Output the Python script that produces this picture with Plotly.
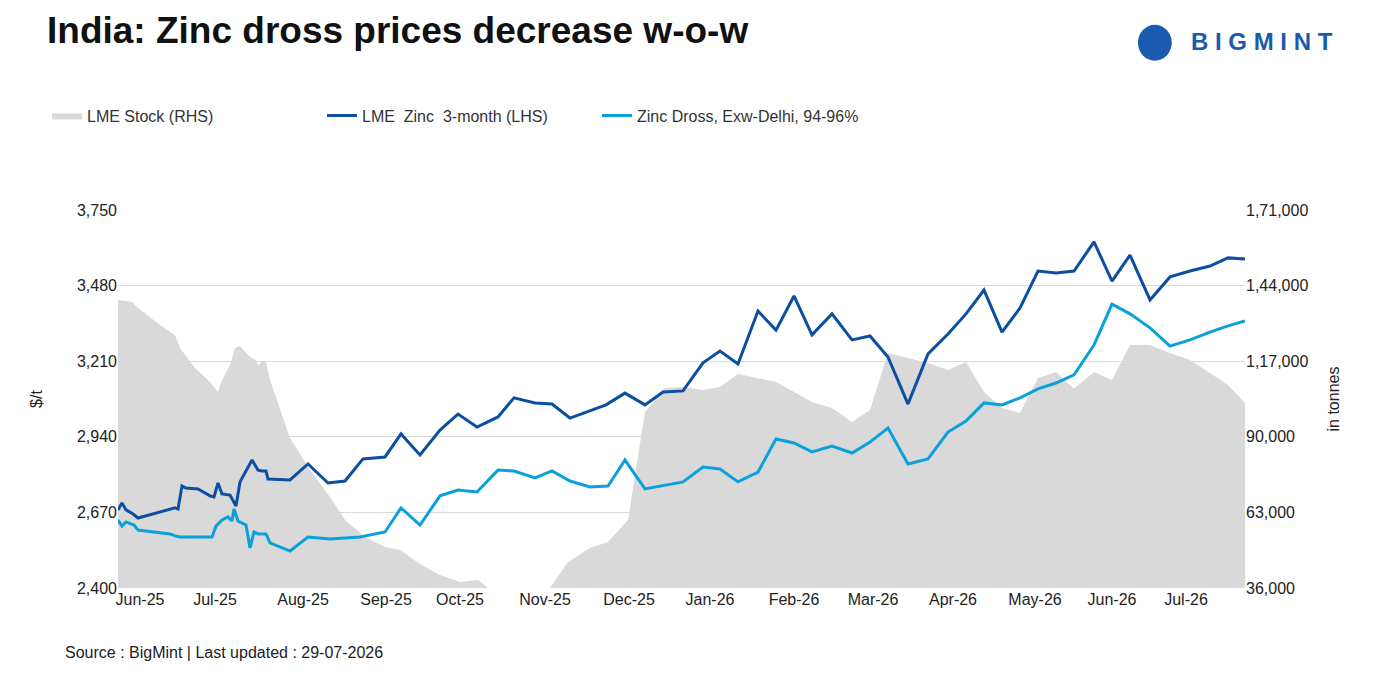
import plotly.graph_objects as go

# x positions (relative horizontal time index)
x_zinc = [0,4,8,15,20,57,60,64,68,80,92,96,100,104,112,118,122,134,140,144,148,150,172,190,210,227,245,267,283,302,322,340,359,380,396,417,434,452,488,507,527,545,565,585,602,620,640,658,676,694,714,734,752,770,790,810,830,848,866,884,902,920,938,956,976,994,1012,1032,1052,1072,1092,1110,1127]
lme_zinc = [2679,2704,2679,2664,2650,2686,2682,2764,2757,2754,2729,2725,2775,2736,2732,2693,2779,2857,2821,2818,2818,2789,2786,2843,2775,2782,2861,2868,2950,2875,2964,3021,2975,3011,3079,3061,3057,3007,3054,3096,3054,3100,3104,3204,3246,3200,3389,3321,3443,3304,3379,3286,3300,3225,3057,3236,3307,3379,3464,3314,3400,3532,3525,3532,3636,3496,3589,3429,3511,3532,3550,3579,3575]

x_dross = [0,4,8,16,20,52,57,62,82,94,98,104,110,114,116,120,128,132,136,140,148,152,172,190,212,242,267,283,302,322,340,359,380,396,417,434,452,472,490,507,527,547,565,585,602,620,640,658,676,694,714,734,752,770,790,810,830,848,866,884,902,920,938,956,976,994,1012,1032,1052,1072,1092,1110,1127]
zinc_dross = [2643,2621,2636,2625,2607,2593,2586,2582,2582,2582,2621,2643,2654,2639,2682,2639,2625,2543,2600,2593,2593,2561,2532,2582,2575,2582,2600,2686,2625,2729,2750,2743,2821,2818,2793,2818,2782,2761,2764,2857,2754,2768,2779,2832,2825,2779,2814,2932,2918,2886,2907,2882,2921,2971,2843,2861,2957,2996,3061,3054,3079,3111,3132,3161,3268,3414,3379,3329,3264,3286,3314,3336,3354]

x_stock = [0,14,20,42,57,62,77,92,100,104,112,117,122,130,134,138,140,144,148,152,172,192,212,227,247,267,282,302,322,342,360,370,432,450,472,490,510,527,547,565,585,602,620,640,658,676,694,714,734,752,770,790,810,830,848,866,884,902,920,938,956,976,994,1012,1032,1052,1072,1092,1110,1127]
lme_stock = [138900,138100,136000,129900,126400,121700,114600,109600,106000,110300,115600,121700,122400,119200,118100,117400,115600,116700,116700,110300,89600,78100,68500,60300,54200,50600,49600,44600,40600,38100,38900,36000,36000,45300,50300,52400,60300,98900,107400,107800,106700,107800,112400,111000,109600,106000,102400,100300,95300,99600,119900,118100,116400,113900,116700,106000,100300,98500,111000,113100,107200,113100,110300,122800,122800,119900,117400,112800,108500,102100]

tick_pos = [22,97,185,268,342,427,511,592,676,755,835,917,994,1068]
tick_lab = ["Jun-25","Jul-25","Aug-25","Sep-25","Oct-25","Nov-25","Dec-25","Jan-26","Feb-26","Mar-26","Apr-26","May-26","Jun-26","Jul-26"]
left_ticks = [2400,2670,2940,3210,3480,3750]
right_ticks = [36000,63000,90000,117000,144000,171000]
right_tick_text = ["36,000","63,000","90,000","1,17,000","1,44,000","1,71,000"]

FONT = "Liberation Sans, Arial, sans-serif"
fig = go.Figure()
fig.add_trace(go.Scatter(x=x_stock, y=lme_stock, name="LME Stock (RHS)", yaxis="y",
                         fill="tozeroy", mode="lines", line=dict(color="#d9d9d9", width=0),
                         fillcolor="#d9d9d9"))
fig.add_trace(go.Scatter(x=x_zinc, y=lme_zinc, name="LME  Zinc  3-month (LHS)", mode="lines",
                         yaxis="y2", line=dict(color="#0b4ea2", width=3)))
fig.add_trace(go.Scatter(x=x_dross, y=zinc_dross, name="Zinc Dross, Exw-Delhi, 94-96%", mode="lines",
                         yaxis="y2", line=dict(color="#0aa0dc", width=3)))

fig.update_layout(
    width=1375, height=684, paper_bgcolor="white", plot_bgcolor="white",
    margin=dict(l=110, r=138, t=202, b=104),
    font=dict(family=FONT, size=16, color="#222"),
    showlegend=True,
    legend=dict(orientation="h", x=-0.063, y=1.25, xanchor="left", yanchor="middle",
                font=dict(size=16, color="#333"), traceorder="normal",
                entrywidth=230, entrywidthmode="pixels"),
    xaxis=dict(range=[0,1127], tickvals=tick_pos, ticktext=tick_lab, showgrid=False,
               showline=False, zeroline=False, ticks="", tickfont=dict(size=16, color="#222")),
    yaxis=dict(range=[36000,171000], tickvals=right_ticks, ticktext=right_tick_text, side="right",
               showgrid=False, zeroline=False,
               title=dict(text="in tonnes", font=dict(size=16), standoff=20),
               tickfont=dict(size=16, color="#222")),
    yaxis2=dict(range=[2400,3750], tickvals=left_ticks, tickformat=",", overlaying="y",
                side="left", showgrid=True, gridcolor="#d9d9d9", zeroline=False,
                title=dict(text="$/t", font=dict(size=16), standoff=30),
                tickfont=dict(size=16, color="#222")),
    annotations=[
        dict(text="<b>India: Zinc dross prices decrease w-o-w</b>", xref="paper", yref="paper",
             x=-0.065, y=1.475, xanchor="left", yanchor="middle", showarrow=False,
             font=dict(size=37, color="#111", family=FONT)),
        dict(text="<b>B I G M I N T</b>", xref="paper", yref="paper", x=1.08, y=1.445,
             xanchor="right", yanchor="middle", showarrow=False,
             font=dict(size=24, color="#1a5bb0", family=FONT)),
        dict(text="Source : BigMint | Last updated : 29-07-2026", xref="paper", yref="paper",
             x=-0.049, y=-0.17, xanchor="left", yanchor="middle", showarrow=False,
             font=dict(size=16, color="#222", family=FONT)),
    ],
    shapes=[dict(type="circle", xref="paper", yref="paper", x0=0.905, x1=0.935, y0=1.395, y1=1.49,
                 fillcolor="#1a5bb0", line=dict(width=0))],
)
fig.write_html("out.html")
